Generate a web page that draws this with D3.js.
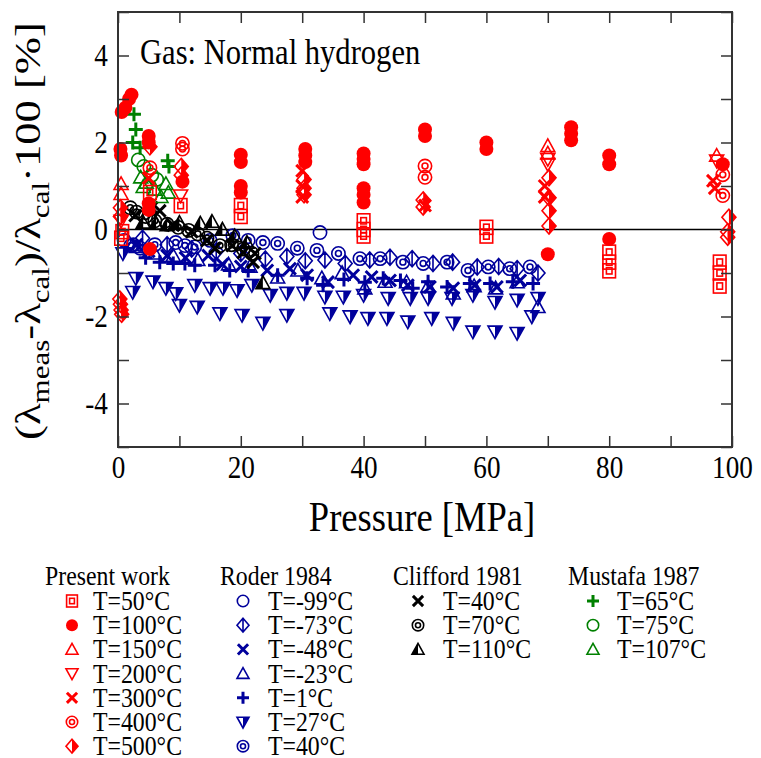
<!DOCTYPE html>
<html>
<head>
<meta charset="utf-8">
<script src="https://cdn.jsdelivr.net/npm/d3@7"></script>
<style>
  body { margin: 0; background: #fff; }
  text { font-family: "Liberation Serif", "Times New Roman", serif; }
</style>
</head>
<body>
<div id="chart"></div>
<script>
// ---- data: [pressure MPa, deviation %] ----
// Present work
const pw50  = [[0.5,-0.2],[0.7,-0.05],[5.2,0.85],[10.2,0.55],[20,0.55],[20,0.3],[40,0.2],[40,0.0],[40,-0.15],[60,0.05],[60,-0.15],[80,-0.52],[80,-0.75],[80,-0.95],[98,-0.75],[98,-1.0],[98,-1.3]];
const pw100 = [[0.4,1.85],[0.5,1.7],[0.6,2.7],[1.2,2.8],[1.8,3.0],[2.2,3.1],[5,2.15],[5,2.0],[5,0.6],[5,0.45],[5.2,-0.45],[10.5,1.1],[20,1.72],[20,1.55],[20,1.0],[20,0.85],[30.5,1.85],[30.5,1.7],[30.5,1.55],[40,1.75],[40,1.62],[40,1.5],[40,0.95],[40,0.8],[40,0.62],[50,2.3],[50,2.15],[60,2.0],[60,1.85],[70,-0.57],[73.8,2.35],[73.8,2.2],[73.8,2.05],[80,1.7],[80,1.5],[80,-0.22],[98.5,1.5]];
const pw150 = [[0.5,1.05],[0.5,0.82],[70,1.92],[70,1.75],[97.5,1.7]];
const pw200 = [[0.5,0.2],[10.2,0.78],[70,1.62],[70,1.5],[97.5,1.58]];
const pw300 = [[5,1.18],[30,1.35],[30,1.0],[30,0.75],[50,0.55],[69.5,1.0],[69.5,0.75],[96.9,1.12],[97.2,0.95]];
const pw400 = [[5.2,1.42],[10.5,1.98],[10.5,1.85],[50,1.46],[50,1.2],[98.5,1.26],[98.5,0.78]];
const pw500 = [[0.4,0.5],[0.4,0.3],[0.3,-1.6],[0.4,-1.72],[0.5,-1.85],[0.6,-1.95],[5.2,1.9],[10.3,1.45],[10.3,1.25],[30.3,1.15],[30.3,0.95],[30.3,0.8],[49.7,0.68],[49.7,0.52],[70.2,1.19],[70.2,0.73],[70.2,0.43],[70.2,0.08],[99.5,0.28],[99.3,-0.05],[99.3,-0.18]];
// Roder 1984
const roderM99 = [[1,-0.25],[2.5,-0.35],[32.9,-0.07]];
const roderM73 = [[4,-0.2],[8,-0.35],[12,-0.45],[16,-0.5],[20,-0.55],[24,-0.68],[27.5,-0.62],[30.5,-0.72],[33.7,-0.7],[37,-0.78],[41,-0.7],[44.3,-0.64],[47.9,-0.67],[51.3,-0.78],[54.5,-0.75],[58.5,-0.86],[62,-0.85],[65,-0.9],[68.4,-1.0]];
const roderM48 = [[3,-0.35],[5,-0.5],[8,-0.6],[11,-0.65],[14.7,-0.6],[17,-0.8],[20,-0.85],[24.3,-0.94],[28,-0.9],[30.8,-1.05],[34.2,-1.21],[38.3,-1.05],[41.3,-1.09],[44.3,-1.17],[47.2,-1.28],[50.8,-1.32],[54.6,-1.35],[58.1,-1.28],[61.7,-1.32],[65.5,-1.17]];
const roderM23 = [[3,-0.4],[6,-0.55],[9,-0.6],[13,-0.7],[18,-0.8],[21.5,-0.85],[26,-1.1],[29.3,-0.94],[33.2,-1.12],[36.5,-1.0],[40.2,-1.35],[43.5,-1.2],[47,-1.21],[50.5,-1.3],[54.6,-1.47],[58,-1.3],[61.5,-1.35],[65,-1.21],[68.4,-1.78]];
const roder1   = [[4.5,-0.65],[6.8,-0.75],[9,-0.78],[10.9,-0.78],[12.5,-0.82],[15.8,-0.82],[18.2,-0.94],[21.2,-0.94],[26,-1.05],[30.8,-1.12],[33.4,-1.28],[36.8,-1.15],[40.2,-1.21],[43.2,-1.12],[46,-1.17],[48,-1.35],[50.5,-1.2],[53.6,-1.32],[57.3,-1.24],[60.6,-1.24],[64.3,-1.2],[67.6,-1.24]];
const roder27  = [[0.8,-0.55],[2.9,-1.12],[2.4,-1.44],[5.7,-1.2],[7.8,-1.35],[9.4,-1.47],[12.5,-1.28],[15,-1.35],[17.1,-1.35],[19.4,-1.4],[21.8,-1.28],[24.8,-1.51],[27.5,-1.46],[30.3,-1.46],[33.7,-1.55],[36.7,-1.55],[40,-1.51],[44,-1.58],[47.6,-1.58],[50.5,-1.58],[54.4,-1.58],[57.8,-1.51],[61.4,-1.67],[65,-1.62],[68.4,-1.58],
                  [10,-1.74],[12.9,-1.78],[16.6,-1.93],[20.2,-1.97],[23.6,-2.15],[27.5,-1.97],[34.5,-1.93],[37.8,-2.0],[40.7,-2.04],[43.8,-2.04],[47.2,-2.12],[51.1,-2.04],[54.6,-2.15],[57.8,-2.35],[61.4,-2.35],[65,-2.38],[67.4,-2.0]];
const roder40  = [[2.1,-0.37],[3.6,-0.43],[6,-0.35],[9.4,-0.3],[10.9,-0.37],[12.5,-0.4],[15,-0.25],[18.7,-0.14],[21.2,-0.25],[23.6,-0.3],[26,-0.32],[29.2,-0.43],[32.4,-0.48],[35.9,-0.55],[39.4,-0.67],[42.7,-0.67],[46.4,-0.75],[49.7,-0.78],[53.6,-0.75],[57,-0.94],[60.3,-0.86],[63.8,-0.9],[67.1,-0.86]];
// Clifford 1981
const cliff40  = [[2.8,0.32],[5.5,0.5],[6.8,0.43],[9,0.1],[12,-0.05],[14.5,-0.25],[15.8,-0.43],[18.6,-0.37],[20.4,-0.53],[22.3,-0.55],[22,-0.75]];
const cliff70  = [[2,0.5],[3,0.4],[4.5,0.3],[6,0.2],[8,0.12],[9.8,0.05],[11.5,-0.02],[13,-0.1],[14.5,-0.2],[16.6,-0.37],[18.5,-0.35],[20.4,-0.45],[21.8,-0.55]];
const cliff110 = [[4.1,0.16],[6.2,0.14],[8,0.1],[10,0.16],[13.4,0.14],[15.3,0.18],[17,0.0],[19,-0.15],[21,-0.3],[23.6,-1.23]];
// Mustafa 1987
const must65  = [[2.6,2.65],[2.9,2.3],[2.4,2.0],[3.6,1.88],[8.1,1.58],[8.3,1.45]];
const must75  = [[3.3,1.6],[4.2,1.45],[5.5,1.25],[6.3,1.15]];
const must107 = [[3.7,1.2],[4.1,0.98],[4.6,1.08],[6,0.92],[7,0.75],[7.8,1.05],[8.2,0.85]];

const presentLabels  = ['T=50°C','T=100°C','T=150°C','T=200°C','T=300°C','T=400°C','T=500°C'];
const roderLabels    = ['T=-99°C','T=-73°C','T=-48°C','T=-23°C','T=1°C','T=27°C','T=40°C'];
const cliffordLabels = ['T=40°C','T=70°C','T=110°C'];
const mustafaLabels  = ['T=65°C','T=75°C','T=107°C'];
const xLabels = [0, 20, 40, 60, 80, 100];
const yLabels = [-4, -2, 0, 2, 4];

// ---- colours / symbol sets ----
const RED = '#ff0000', BLUE = '#00009c', GREEN = '#008000', BLACK = '#000000';

const present = [
  {values: pw50, shape: 'dsquare'}, {values: pw100, shape: 'fcircle'},
  {values: pw150, shape: 'tri'}, {values: pw200, shape: 'tridown'},
  {values: pw300, shape: 'x'}, {values: pw400, shape: 'dcircle'},
  {values: pw500, shape: 'hdiamond'}
].map(d => ({...d, color: RED}));
const roder = [
  {values: roderM99, shape: 'circle'}, {values: roderM73, shape: 'ldiamond'},
  {values: roderM48, shape: 'x'}, {values: roderM23, shape: 'tri'},
  {values: roder1, shape: 'plus'}, {values: roder27, shape: 'htridown'},
  {values: roder40, shape: 'dcircle'}
].map(d => ({...d, color: BLUE}));
const clifford = [
  {values: cliff40, shape: 'x'}, {values: cliff70, shape: 'dcircle'},
  {values: cliff110, shape: 'htri'}
].map(d => ({...d, color: BLACK}));
const mustafa = [
  {values: must65, shape: 'plus'}, {values: must75, shape: 'circle'},
  {values: must107, shape: 'tri'}
].map(d => ({...d, color: GREEN}));

// ---- setup ----
const width = 761, height = 758;
const svg = d3.select('#chart').append('svg')
  .attr('width', width)
  .attr('height', height);

const xScale = d3.scaleLinear().domain([0, 100]).range([118, 732]);
const yScale = d3.scaleLinear().domain([-5, 5]).range([447, 12]);
const SX = 0.85; // glyphs in the original are a bit narrow

function drawSymbol(g, shape, color, s) {
  const open = sel => sel.attr('fill', 'none').attr('stroke', color).attr('stroke-width', 1.6);
  const solid = sel => sel.attr('fill', color).attr('stroke', 'none');
  const h = s * 1.15;
  switch (shape) {
    case 'dsquare':
      open(g.append('rect').attr('x', -s * 0.9).attr('y', -s).attr('width', s * 1.8).attr('height', s * 2));
      open(g.append('rect').attr('x', -s * 0.4).attr('y', -s * 0.45).attr('width', s * 0.8).attr('height', s * 0.9));
      break;
    case 'fcircle':
      solid(g.append('circle').attr('r', s));
      break;
    case 'circle':
      open(g.append('circle').attr('r', s * 0.95));
      break;
    case 'dcircle':
      open(g.append('circle').attr('r', s * 0.95));
      open(g.append('circle').attr('r', s * 0.42));
      break;
    case 'tri':
      open(g.append('path').attr('d', `M0,${-s}L${s},${s * 0.8}L${-s},${s * 0.8}Z`));
      break;
    case 'tridown':
      open(g.append('path').attr('d', `M${-s},${-s * 0.8}L${s},${-s * 0.8}L0,${s}Z`));
      break;
    case 'htri':
      solid(g.append('path').attr('d', `M0,${-s}L0,${s * 0.8}L${-s},${s * 0.8}Z`));
      open(g.append('path').attr('d', `M0,${-s}L${s},${s * 0.8}L${-s},${s * 0.8}Z`));
      break;
    case 'htridown':
      solid(g.append('path').attr('d', `M0,${-s * 0.8}L${s},${-s * 0.8}L0,${s}Z`));
      open(g.append('path').attr('d', `M${-s},${-s * 0.8}L${s},${-s * 0.8}L0,${s}Z`));
      break;
    case 'hdiamond':
      solid(g.append('path').attr('d', `M0,${-h}L${s},0L0,${h}Z`));
      open(g.append('path').attr('d', `M0,${-h}L${s},0L0,${h}L${-s},0Z`));
      break;
    case 'ldiamond':
      open(g.append('path').attr('d', `M0,${-h}L${s},0L0,${h}L${-s},0ZM0,${-h}L0,${h}`));
      break;
    case 'x':
      g.append('path').attr('d', `M${-s * 0.85},${-s * 0.85}L${s * 0.85},${s * 0.85}M${-s * 0.85},${s * 0.85}L${s * 0.85},${-s * 0.85}`)
        .attr('stroke', color).attr('stroke-width', 3).attr('fill', 'none');
      break;
    case 'plus':
      g.append('path').attr('d', `M${-s},0L${s},0M0,${-s}L0,${s}`)
        .attr('stroke', color).attr('stroke-width', 3).attr('fill', 'none');
      break;
  }
}

// zero line
svg.append('line')
  .attr('x1', xScale(0)).attr('x2', xScale(100))
  .attr('y1', yScale(0)).attr('y2', yScale(0))
  .attr('stroke', '#000').attr('stroke-width', 1.5);

// markers: blue first, red on top
[...roder, ...clifford, ...mustafa, ...present].forEach(ser => {
  svg.append('g').selectAll('g')
    .data(ser.values)
    .enter().append('g')
    .attr('transform', d => `translate(${xScale(d[0])},${yScale(d[1])})`)
    .each(function() { drawSymbol(d3.select(this), ser.shape, ser.color, 7); });
});

// axes (ticks inward on all four sides)
const xTicks = d3.range(0, 101, 10);
const yTicks = d3.range(-5, 6, 1);
function styleAxis(g) {
  g.select('.domain').remove();
  g.selectAll('line').attr('stroke', '#333').attr('stroke-width', 1.5);
  g.attr('font-size', 32).attr('font-family', '"Liberation Serif", serif');
  g.selectAll('text').attr('fill', '#000').attr('transform', `scale(${SX},1)`);
}
svg.append('g')
  .attr('transform', `translate(0,${yScale(-5)})`)
  .call(d3.axisBottom(xScale).tickValues(xTicks).tickSize(-11).tickPadding(8)
    .tickFormat(d => xLabels.includes(d) ? String(d) : ''))
  .call(styleAxis);
svg.append('g')
  .attr('transform', `translate(0,${yScale(5)})`)
  .call(d3.axisTop(xScale).tickValues(xTicks).tickSize(-11).tickFormat(''))
  .call(styleAxis);
svg.append('g')
  .attr('transform', `translate(${xScale(0)},0)`)
  .call(d3.axisLeft(yScale).tickValues(yTicks).tickSize(-11).tickPadding(12)
    .tickFormat(d => yLabels.includes(d) ? String(d) : ''))
  .call(styleAxis);
svg.append('g')
  .attr('transform', `translate(${xScale(100)},0)`)
  .call(d3.axisRight(yScale).tickValues(yTicks).tickSize(-11).tickFormat(''))
  .call(styleAxis);

// frame
svg.append('rect')
  .attr('x', xScale(0)).attr('y', yScale(5))
  .attr('width', xScale(100) - xScale(0))
  .attr('height', yScale(-5) - yScale(5))
  .attr('fill', 'none').attr('stroke', '#333').attr('stroke-width', 2);

// in-plot note
svg.append('text')
  .attr('transform', `translate(140,64) scale(${SX},1)`)
  .attr('font-size', 36)
  .text('Gas: Normal hydrogen');

// x title
svg.append('text')
  .attr('transform', `translate(422,531) scale(${SX},1)`)
  .attr('text-anchor', 'middle')
  .attr('font-size', 43)
  .text('Pressure [MPa]');

// y title with subscripts, stretched to the original length
const yTitle = svg.append('text')
  .attr('font-size', 36)
  .attr('text-anchor', 'middle');
const parts = [['(λ', 0], ['meas', 1], ['-λ', 0], ['cal', 1], [')/λ', 0], ['cal', 1], ['·100 [%]', 0]];
let prevSub = 0;
parts.forEach(([t, sub]) => {
  yTitle.append('tspan')
    .attr('dy', (sub - prevSub) * 9)
    .attr('font-size', sub ? 25 : 36)
    .text(t);
  prevSub = sub;
});
const yLen = yTitle.node().getComputedTextLength();
yTitle.attr('transform', `translate(40,231) rotate(-90) scale(${418 / yLen},1)`);

// legend
const legendCols = [
  {title: 'Present work', x: 45, sx: 72, tx: 93, series: present, labels: presentLabels},
  {title: 'Roder 1984', x: 220, sx: 243, tx: 268, series: roder, labels: roderLabels},
  {title: 'Clifford 1981', x: 393, sx: 418, tx: 443, series: clifford, labels: cliffordLabels},
  {title: 'Mustafa 1987', x: 568, sx: 593, tx: 617, series: mustafa, labels: mustafaLabels}
];
const headY = 585, rowY0 = 610, rowStep = 24.2;
legendCols.forEach(col => {
  const lg = svg.append('g').attr('font-size', 28);
  lg.append('text')
    .attr('transform', `translate(${col.x},${headY}) scale(${SX},1)`)
    .text(col.title);
  const rows = lg.selectAll('g.row')
    .data(col.series)
    .enter().append('g')
    .attr('class', 'row');
  rows.append('g')
    .attr('transform', (d, i) => `translate(${col.sx},${rowY0 + i * rowStep - 9})`)
    .each(function(d) { drawSymbol(d3.select(this), d.shape, d.color, 6); });
  rows.append('text')
    .attr('transform', (d, i) => `translate(${col.tx},${rowY0 + i * rowStep}) scale(${SX},1)`)
    .text((d, i) => col.labels[i]);
});
</script>
</body>
</html>
